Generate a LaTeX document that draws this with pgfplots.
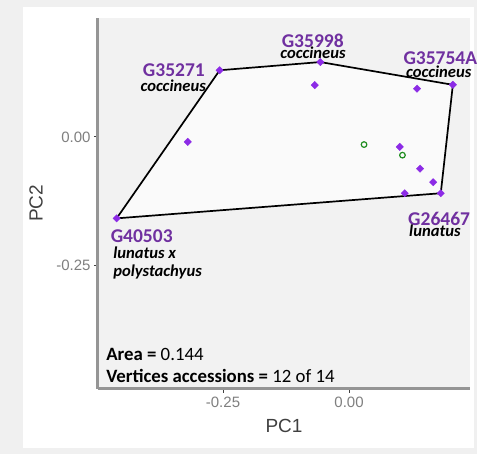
\documentclass[border=0pt]{standalone}
\usepackage{fontspec}
\setmainfont{Carlito}
\newfontfamily\arial{Liberation Sans}
\usepackage{pgfplots}
\pgfplotsset{compat=1.18}
\definecolor{outerbg}{HTML}{F0F0F0}
\definecolor{plotbg}{HTML}{F2F2F2}
\definecolor{hullfill}{HTML}{FAFAFA}
\definecolor{ptpurple}{HTML}{8C2BE6}
\definecolor{lblpurple}{HTML}{7030A0}
\definecolor{grn}{HTML}{1E8C1E}
\definecolor{ticklbl}{HTML}{7F7F7F}
\definecolor{axline}{HTML}{959595}
\definecolor{titlegray}{HTML}{404040}
\begin{document}
\begin{tikzpicture}[x=1pt,y=1pt]
\fill[outerbg] (0,0) rectangle (477,454);
\fill[white] (23,6) rectangle (474,447);
\begin{axis}[
  at={(98pt,65pt)}, anchor=south west, scale only axis,
  width=372pt, height=371pt,
  xmin=-0.498, xmax=0.240, ymin=-0.492, ymax=0.232,
  axis background/.style={fill=plotbg},
  axis lines*=left,
  axis line style={line width=3pt, draw=axline},
  xtick={-0.25,0}, xticklabels={-0.25,0.00},
  ytick={-0.25,0}, yticklabels={-0.25,0.00},
  tick align=outside, major tick length=4pt,
  tick style={draw=black!75, line width=0.8pt},
  tick label style={font=\arial\fontsize{15}{17}\selectfont, text=ticklbl},
  xlabel={PC1}, ylabel={PC2},
  label style={font=\arial\fontsize{19}{22}\selectfont, text=titlegray},
  xlabel style={at={(axis description cs:0.5,-0.0997)}, anchor=center},
  ylabel style={at={(axis description cs:-0.1667,0.5)}, anchor=center},
  clip=false,
]
\addplot[draw=black, line width=1.7pt, fill=hullfill] coordinates {
  (-0.2566,0.130) (-0.057,0.146) (0.206,0.1016) (0.182,-0.110) (-0.461,-0.159)
} -- cycle;
\addplot[only marks, mark=square*, mark size=2.6pt, mark options={rotate=45}, color=ptpurple] coordinates {
  (-0.2566,0.130) (-0.057,0.146) (0.206,0.1016) (0.182,-0.110) (-0.461,-0.159)
  (-0.068,0.101) (0.135,0.094) (-0.320,-0.0098) (0.1006,-0.0195)
  (0.141,-0.062) (0.167,-0.0885) (0.1105,-0.110)
};
\addplot[only marks, mark=o, mark size=2.8pt, line width=1.2pt, color=grn] coordinates {
  (0.0298,-0.015) (0.106,-0.0357)
};
\tikzset{gl/.style={font=\bfseries\fontsize{19.5}{21}\selectfont, text=lblpurple, inner sep=0pt},
         sp/.style={font=\bfseries\itshape\fontsize{16.6}{18}\selectfont, text=black, inner sep=0pt}}
\node[gl, anchor=east] at (axis cs:-0.2857,0.1295) {G35271};
\node[sp, anchor=east] at (axis cs:-0.2837,0.1002) {coccineus};
\node[gl, anchor=center] at (axis cs:-0.072,0.188) {G35998};
\node[sp, anchor=center] at (axis cs:-0.0714,0.164) {coccineus};
\node[gl, anchor=west] at (axis cs:0.1077,0.1537) {G35754A};
\node[sp, anchor=west] at (axis cs:0.113,0.1275) {coccineus};
\node[gl, anchor=west] at (axis cs:0.117,-0.160) {G26467};
\node[sp, anchor=west] at (axis cs:0.119,-0.184) {lunatus};
\node[gl, anchor=west] at (axis cs:-0.473,-0.193) {G40503};
\node[sp, anchor=west] at (axis cs:-0.468,-0.226) {lunatus x};
\node[sp, anchor=west] at (axis cs:-0.468,-0.263) {polystachyus};
\node[font=\fontsize{18.8}{20}\selectfont, anchor=west, inner sep=0pt] at (axis cs:-0.482,-0.424) {\textbf{Area =} 0.144};
\node[font=\fontsize{18.8}{20}\selectfont, anchor=west, inner sep=0pt] at (axis cs:-0.482,-0.466) {\textbf{Vertices accessions =} 12 of 14};
\end{axis}
\pgfresetboundingbox
\useasboundingbox (0,0) rectangle (477,454);
\end{tikzpicture}
\end{document}
